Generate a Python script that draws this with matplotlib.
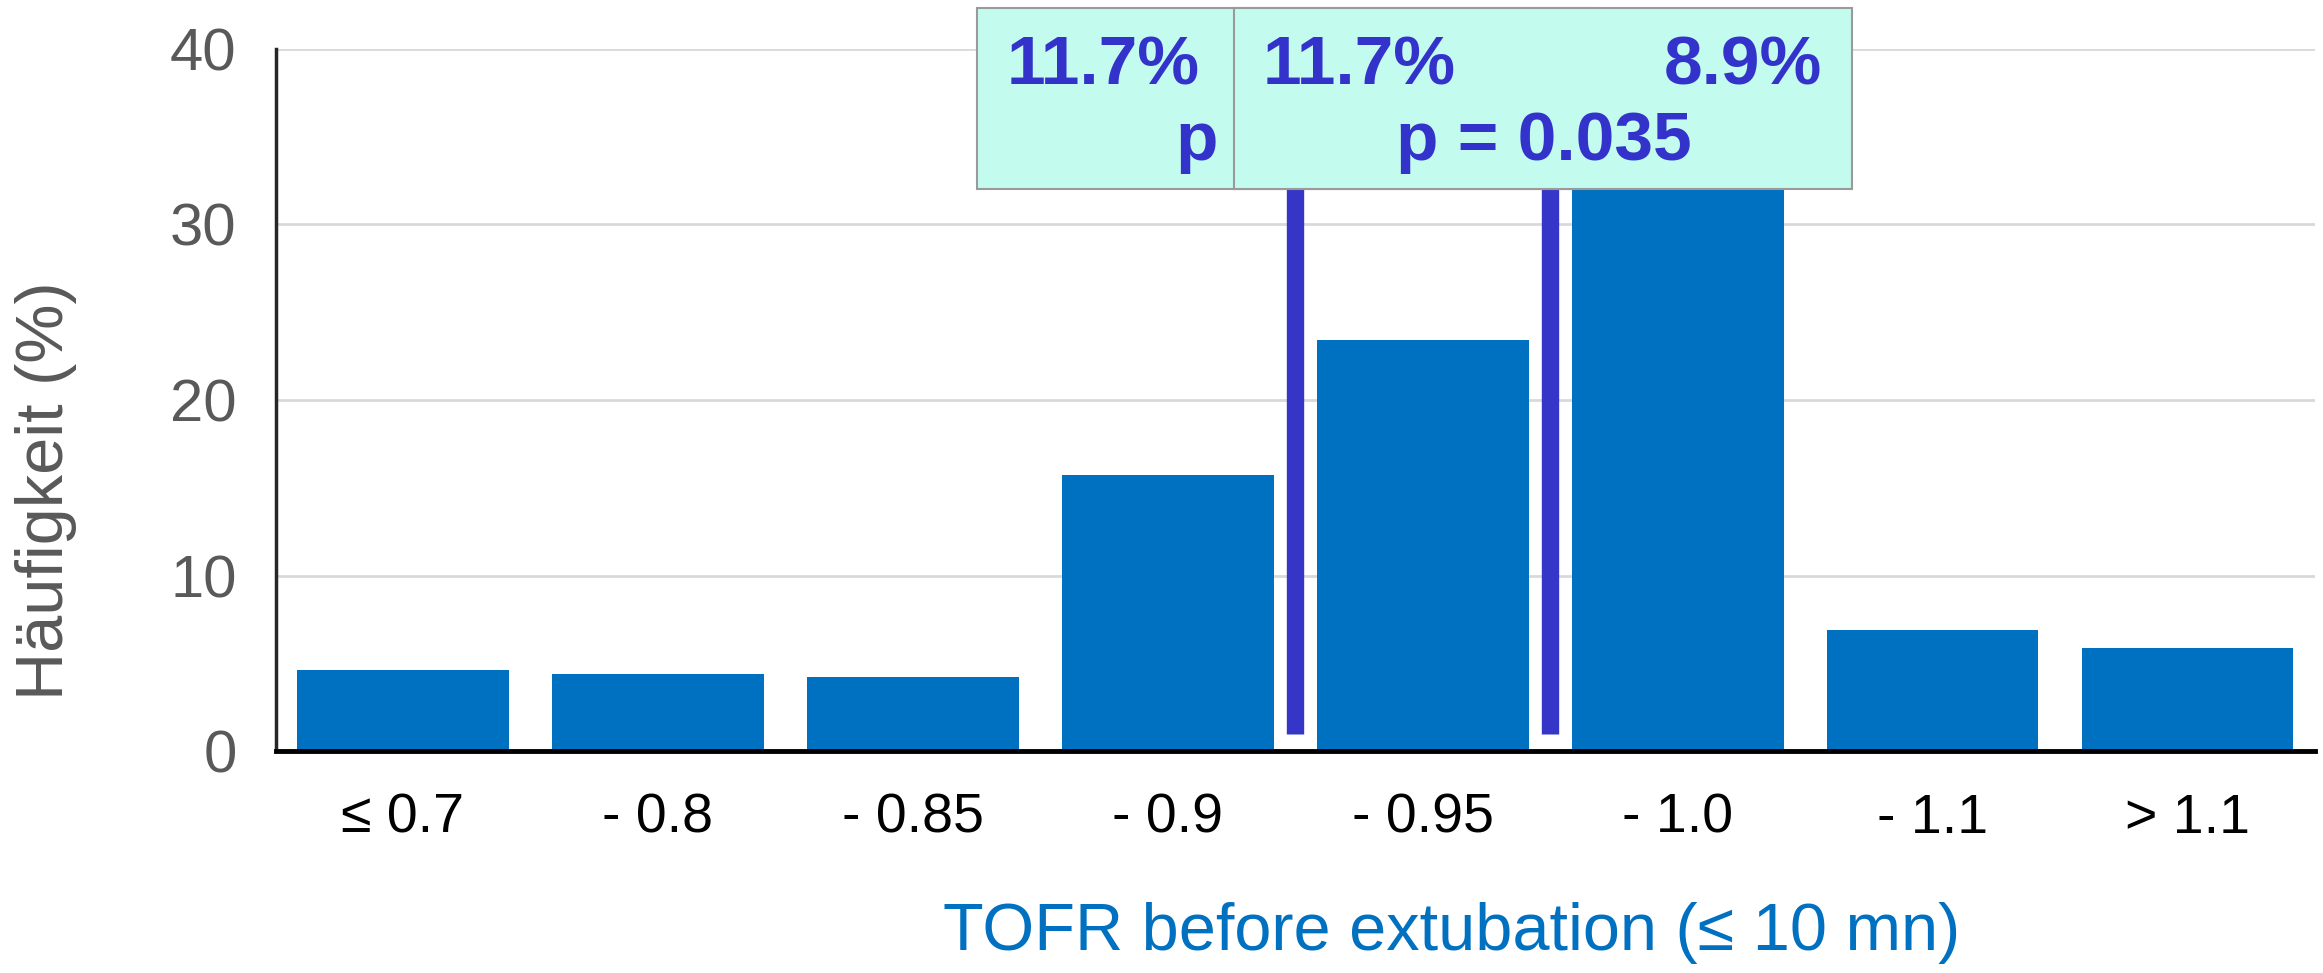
import matplotlib
matplotlib.use('Agg')
import matplotlib.pyplot as plt
from matplotlib.patches import Rectangle

plt.rcParams['font.family'] = ['Liberation Sans', 'DejaVu Sans']

# data
cats = ['≤ 0.7', '- 0.8', '- 0.85', '- 0.9', '- 0.95', '- 1.0', '- 1.1', '> 1.1']
freq = [4.6, 4.4, 4.2, 15.7, 23.4, 34.8, 6.9, 5.9]
yticks = [0, 10, 20, 30, 40]
cut_pos = [3.5, 4.5]
box1_txt = ['11.7%', 'p']
box2_txt = ['11.7%', '8.9%', 'p = 0.035']

fig = plt.figure(figsize=(23.23, 9.73), dpi=100)
ax = fig.add_axes([0.1186, 0.228, 0.878, 0.722])

x = range(len(cats))
ax.bar(x, freq, width=0.83, color='#0070C0', zorder=2)
ax.set_xlim(-0.5, 7.5)
ax.set_ylim(0, 40)
ax.set_yticks(yticks)
ax.set_xticks(list(x))
ax.set_xticklabels(cats)
ax.yaxis.grid(True, color='#D9D9D9', lw=2)
ax.set_axisbelow(True)
for s in ['top', 'right']:
    ax.spines[s].set_visible(False)
ax.spines['left'].set_color('#262626')
ax.spines['left'].set_linewidth(2.5)
ax.spines['bottom'].set_color('black')
ax.spines['bottom'].set_linewidth(3.5)
ax.tick_params(axis='y', length=0, pad=28, labelsize=43, labelcolor='#595959')
ax.tick_params(axis='x', length=0, pad=30, labelsize=40, labelcolor='black')

ax.set_xlabel('TOFR before extubation (≤ 10 mn)', fontsize=48, color='#0070C0',
              va='center', ha='center')
ax.xaxis.set_label_coords(0.5765, -0.259)
ax.set_ylabel('Häufigkeit (%)', fontsize=48, color='#595959', va='center', ha='center')
ax.yaxis.set_label_coords(-0.1125, 0.371)

# cut-off lines
ax.vlines(cut_pos, 1, 33, color='#3535C8', lw=12.5, zorder=3, capstyle='butt')

# annotation boxes
ax.add_patch(Rectangle((2.253, 32.0), 4.666 - 2.253, 10.3, facecolor='#C3FCEE',
                       edgecolor='#9A9A9A', lw=1.5, zorder=4, clip_on=False))
ax.add_patch(Rectangle((3.259, 32.0), 5.683 - 3.259, 10.3, facecolor='#C3FCEE',
                       edgecolor='#9A9A9A', lw=1.5, zorder=5, clip_on=False))

tc = '#3333CC'
tk = dict(fontsize=50, fontweight='bold', color=tc, va='baseline', clip_on=False)
ax.text(3.125, 37.97, box1_txt[0], ha='right', zorder=4.5, **tk)
ax.text(3.195, 33.67, box1_txt[1], ha='right', zorder=4.5, **tk)
ax.text(3.37, 37.97, box2_txt[0], ha='left', zorder=6, **tk)
ax.text(5.567, 37.97, box2_txt[1], ha='right', zorder=6, **tk)
ax.text(4.474, 33.67, box2_txt[2], ha='center', zorder=6, **tk)

fig.savefig('out.png', dpi=100)
